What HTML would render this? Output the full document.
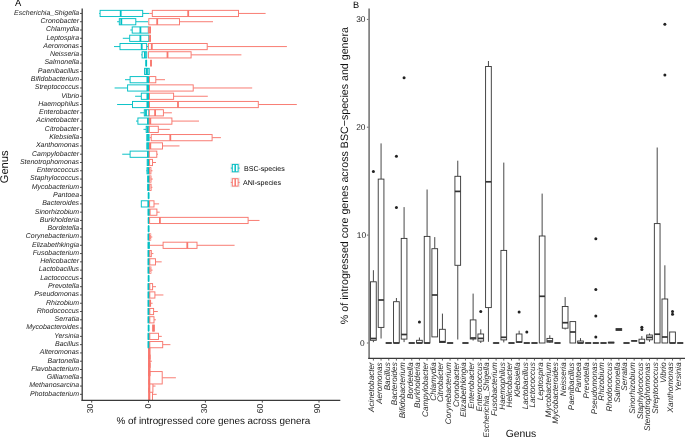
<!DOCTYPE html>
<html><head><meta charset="utf-8"><style>
html,body{margin:0;padding:0;background:#fff;overflow:hidden;width:685px;height:437px;}
svg{display:block;will-change:transform;text-rendering:geometricPrecision;font-family:"Liberation Sans",sans-serif;}
</style></head><body>
<svg width="685" height="437" viewBox="0 0 685 437">
<rect width="685" height="437" fill="#fff"/>
<text x="15.0" y="6.4" font-size="9.4" fill="#000">A</text>
<text x="353.0" y="7.7" font-size="9.2" fill="#000">B</text>
<g fill="none">
<line x1="152.5" y1="394.33" x2="156.7" y2="394.33" stroke="#F8766D" stroke-width="0.95"/>
<rect x="148.7" y="388.13" width="3.80" height="12.40" fill="#fff" stroke="#F8766D" stroke-width="0.95"/>
<line x1="149.4" y1="388.13" x2="149.4" y2="400.53" stroke="#F8766D" stroke-width="1.80"/>
<line x1="152.9" y1="386.05" x2="155.5" y2="386.05" stroke="#F8766D" stroke-width="0.95"/>
<rect x="148.7" y="379.85" width="4.20" height="12.40" fill="#fff" stroke="#F8766D" stroke-width="0.95"/>
<line x1="149.4" y1="379.85" x2="149.4" y2="392.25" stroke="#F8766D" stroke-width="1.80"/>
<line x1="162.2" y1="377.77" x2="175.9" y2="377.77" stroke="#F8766D" stroke-width="0.95"/>
<rect x="148.7" y="371.57" width="13.50" height="12.40" fill="#fff" stroke="#F8766D" stroke-width="0.95"/>
<line x1="149.4" y1="371.57" x2="149.4" y2="383.97" stroke="#F8766D" stroke-width="1.80"/>
<rect x="148.6" y="363.29" width="1.40" height="12.40" fill="#fff" stroke="#F8766D" stroke-width="0.95"/>
<line x1="149.2" y1="363.29" x2="149.2" y2="375.69" stroke="#F8766D" stroke-width="1.80"/>
<line x1="150.0" y1="361.21" x2="151.9" y2="361.21" stroke="#F8766D" stroke-width="0.95"/>
<rect x="148.6" y="355.01" width="1.40" height="12.40" fill="#fff" stroke="#F8766D" stroke-width="0.95"/>
<line x1="149.2" y1="355.01" x2="149.2" y2="367.41" stroke="#F8766D" stroke-width="1.80"/>
<rect x="148.6" y="346.73" width="1.40" height="12.40" fill="#fff" stroke="#F8766D" stroke-width="0.95"/>
<line x1="149.2" y1="346.73" x2="149.2" y2="359.13" stroke="#F8766D" stroke-width="1.80"/>
<rect x="148.1" y="341.55" width="1.20" height="6.20" fill="#fff" stroke="#00BFC4" stroke-width="0.95"/>
<line x1="148.7" y1="341.55" x2="148.7" y2="347.75" stroke="#00BFC4" stroke-width="1.80"/>
<line x1="162.7" y1="344.65" x2="170.4" y2="344.65" stroke="#F8766D" stroke-width="0.95"/>
<rect x="149.8" y="341.55" width="12.90" height="6.20" fill="#fff" stroke="#F8766D" stroke-width="0.95"/>
<rect x="148.1" y="333.27" width="1.20" height="6.20" fill="#fff" stroke="#00BFC4" stroke-width="0.95"/>
<line x1="148.7" y1="333.27" x2="148.7" y2="339.47" stroke="#00BFC4" stroke-width="1.80"/>
<line x1="158.5" y1="336.37" x2="161.8" y2="336.37" stroke="#F8766D" stroke-width="0.95"/>
<rect x="149.8" y="333.27" width="8.70" height="6.20" fill="#fff" stroke="#F8766D" stroke-width="0.95"/>
<rect x="148.6" y="324.99" width="0.01" height="6.20" fill="#fff" stroke="#00BFC4" stroke-width="0.95"/>
<line x1="148.6" y1="324.99" x2="148.6" y2="331.19" stroke="#00BFC4" stroke-width="1.80"/>
<rect x="152.7" y="324.99" width="1.60" height="6.20" fill="#fff" stroke="#F8766D" stroke-width="0.95"/>
<line x1="153.5" y1="324.99" x2="153.5" y2="331.19" stroke="#F8766D" stroke-width="1.80"/>
<rect x="148.1" y="316.71" width="1.20" height="6.20" fill="#fff" stroke="#00BFC4" stroke-width="0.95"/>
<line x1="148.7" y1="316.71" x2="148.7" y2="322.91" stroke="#00BFC4" stroke-width="1.80"/>
<line x1="154.0" y1="319.81" x2="155.9" y2="319.81" stroke="#F8766D" stroke-width="0.95"/>
<rect x="149.8" y="316.71" width="4.20" height="6.20" fill="#fff" stroke="#F8766D" stroke-width="0.95"/>
<rect x="148.1" y="308.43" width="1.20" height="6.20" fill="#fff" stroke="#00BFC4" stroke-width="0.95"/>
<line x1="148.7" y1="308.43" x2="148.7" y2="314.63" stroke="#00BFC4" stroke-width="1.80"/>
<line x1="153.6" y1="311.53" x2="157.8" y2="311.53" stroke="#F8766D" stroke-width="0.95"/>
<rect x="149.8" y="308.43" width="3.80" height="6.20" fill="#fff" stroke="#F8766D" stroke-width="0.95"/>
<rect x="148.1" y="300.15" width="1.20" height="6.20" fill="#fff" stroke="#00BFC4" stroke-width="0.95"/>
<line x1="148.7" y1="300.15" x2="148.7" y2="306.35" stroke="#00BFC4" stroke-width="1.80"/>
<line x1="150.6" y1="303.25" x2="152.6" y2="303.25" stroke="#F8766D" stroke-width="0.95"/>
<rect x="149.8" y="300.15" width="0.80" height="6.20" fill="#fff" stroke="#F8766D" stroke-width="0.95"/>
<rect x="148.1" y="291.87" width="1.20" height="6.20" fill="#fff" stroke="#00BFC4" stroke-width="0.95"/>
<line x1="148.7" y1="291.87" x2="148.7" y2="298.07" stroke="#00BFC4" stroke-width="1.80"/>
<line x1="154.9" y1="294.97" x2="163.4" y2="294.97" stroke="#F8766D" stroke-width="0.95"/>
<rect x="149.8" y="291.87" width="5.10" height="6.20" fill="#fff" stroke="#F8766D" stroke-width="0.95"/>
<rect x="148.1" y="283.59" width="1.20" height="6.20" fill="#fff" stroke="#00BFC4" stroke-width="0.95"/>
<line x1="148.7" y1="283.59" x2="148.7" y2="289.79" stroke="#00BFC4" stroke-width="1.80"/>
<line x1="152.6" y1="286.69" x2="156.0" y2="286.69" stroke="#F8766D" stroke-width="0.95"/>
<rect x="149.8" y="283.59" width="2.80" height="6.20" fill="#fff" stroke="#F8766D" stroke-width="0.95"/>
<rect x="148.6" y="275.31" width="0.01" height="6.20" fill="#fff" stroke="#00BFC4" stroke-width="0.95"/>
<line x1="148.6" y1="275.31" x2="148.6" y2="281.51" stroke="#00BFC4" stroke-width="1.80"/>
<rect x="148.1" y="267.03" width="1.20" height="6.20" fill="#fff" stroke="#00BFC4" stroke-width="0.95"/>
<line x1="148.7" y1="267.03" x2="148.7" y2="273.23" stroke="#00BFC4" stroke-width="1.80"/>
<line x1="150.9" y1="270.13" x2="152.6" y2="270.13" stroke="#F8766D" stroke-width="0.95"/>
<rect x="149.8" y="267.03" width="1.10" height="6.20" fill="#fff" stroke="#F8766D" stroke-width="0.95"/>
<rect x="148.1" y="258.75" width="1.20" height="6.20" fill="#fff" stroke="#00BFC4" stroke-width="0.95"/>
<line x1="148.7" y1="258.75" x2="148.7" y2="264.95" stroke="#00BFC4" stroke-width="1.80"/>
<line x1="155.5" y1="261.85" x2="161.7" y2="261.85" stroke="#F8766D" stroke-width="0.95"/>
<rect x="149.8" y="258.75" width="5.70" height="6.20" fill="#fff" stroke="#F8766D" stroke-width="0.95"/>
<rect x="148.1" y="250.47" width="1.20" height="6.20" fill="#fff" stroke="#00BFC4" stroke-width="0.95"/>
<line x1="148.7" y1="250.47" x2="148.7" y2="256.67" stroke="#00BFC4" stroke-width="1.80"/>
<line x1="151.3" y1="253.57" x2="153.4" y2="253.57" stroke="#F8766D" stroke-width="0.95"/>
<rect x="149.8" y="250.47" width="1.50" height="6.20" fill="#fff" stroke="#F8766D" stroke-width="0.95"/>
<rect x="148.1" y="242.19" width="1.20" height="6.20" fill="#fff" stroke="#00BFC4" stroke-width="0.95"/>
<line x1="148.7" y1="242.19" x2="148.7" y2="248.39" stroke="#00BFC4" stroke-width="1.80"/>
<line x1="149.6" y1="245.29" x2="163.1" y2="245.29" stroke="#F8766D" stroke-width="0.95"/>
<line x1="197.0" y1="245.29" x2="234.6" y2="245.29" stroke="#F8766D" stroke-width="0.95"/>
<rect x="163.1" y="242.19" width="33.90" height="6.20" fill="#fff" stroke="#F8766D" stroke-width="0.95"/>
<line x1="187.3" y1="242.19" x2="187.3" y2="248.39" stroke="#F8766D" stroke-width="1.80"/>
<rect x="148.1" y="233.91" width="1.20" height="6.20" fill="#fff" stroke="#00BFC4" stroke-width="0.95"/>
<line x1="148.7" y1="233.91" x2="148.7" y2="240.11" stroke="#00BFC4" stroke-width="1.80"/>
<line x1="150.7" y1="237.01" x2="152.3" y2="237.01" stroke="#F8766D" stroke-width="0.95"/>
<rect x="149.6" y="233.91" width="1.10" height="6.20" fill="#fff" stroke="#F8766D" stroke-width="0.95"/>
<rect x="148.6" y="225.63" width="0.01" height="6.20" fill="#fff" stroke="#00BFC4" stroke-width="0.95"/>
<line x1="148.6" y1="225.63" x2="148.6" y2="231.83" stroke="#00BFC4" stroke-width="1.80"/>
<rect x="148.6" y="217.35" width="0.01" height="6.20" fill="#fff" stroke="#00BFC4" stroke-width="0.95"/>
<line x1="148.6" y1="217.35" x2="148.6" y2="223.55" stroke="#00BFC4" stroke-width="1.80"/>
<line x1="248.1" y1="220.45" x2="259.5" y2="220.45" stroke="#F8766D" stroke-width="0.95"/>
<rect x="149.6" y="217.35" width="98.50" height="6.20" fill="#fff" stroke="#F8766D" stroke-width="0.95"/>
<line x1="159.9" y1="217.35" x2="159.9" y2="223.55" stroke="#F8766D" stroke-width="1.80"/>
<rect x="148.1" y="209.07" width="1.20" height="6.20" fill="#fff" stroke="#00BFC4" stroke-width="0.95"/>
<line x1="148.7" y1="209.07" x2="148.7" y2="215.27" stroke="#00BFC4" stroke-width="1.80"/>
<line x1="149.6" y1="212.17" x2="150.1" y2="212.17" stroke="#F8766D" stroke-width="0.95"/>
<line x1="156.9" y1="212.17" x2="159.7" y2="212.17" stroke="#F8766D" stroke-width="0.95"/>
<rect x="150.1" y="209.07" width="6.80" height="6.20" fill="#fff" stroke="#F8766D" stroke-width="0.95"/>
<rect x="141.3" y="200.79" width="7.80" height="6.20" fill="#fff" stroke="#00BFC4" stroke-width="0.95"/>
<line x1="148.3" y1="200.79" x2="148.3" y2="206.99" stroke="#00BFC4" stroke-width="1.80"/>
<line x1="154.0" y1="203.89" x2="159.1" y2="203.89" stroke="#F8766D" stroke-width="0.95"/>
<rect x="149.6" y="200.79" width="4.40" height="6.20" fill="#fff" stroke="#F8766D" stroke-width="0.95"/>
<rect x="148.6" y="192.51" width="0.01" height="6.20" fill="#fff" stroke="#00BFC4" stroke-width="0.95"/>
<line x1="148.6" y1="192.51" x2="148.6" y2="198.71" stroke="#00BFC4" stroke-width="1.80"/>
<rect x="147.7" y="184.23" width="1.60" height="6.20" fill="#fff" stroke="#00BFC4" stroke-width="0.95"/>
<line x1="148.5" y1="184.23" x2="148.5" y2="190.43" stroke="#00BFC4" stroke-width="1.80"/>
<line x1="151.1" y1="187.33" x2="152.4" y2="187.33" stroke="#F8766D" stroke-width="0.95"/>
<rect x="149.8" y="184.23" width="1.30" height="6.20" fill="#fff" stroke="#F8766D" stroke-width="0.95"/>
<rect x="147.7" y="175.95" width="1.60" height="6.20" fill="#fff" stroke="#00BFC4" stroke-width="0.95"/>
<line x1="148.5" y1="175.95" x2="148.5" y2="182.15" stroke="#00BFC4" stroke-width="1.80"/>
<line x1="151.0" y1="179.05" x2="152.8" y2="179.05" stroke="#F8766D" stroke-width="0.95"/>
<rect x="149.8" y="175.95" width="1.20" height="6.20" fill="#fff" stroke="#F8766D" stroke-width="0.95"/>
<line x1="146.4" y1="170.77" x2="147.0" y2="170.77" stroke="#00BFC4" stroke-width="0.95"/>
<rect x="147.0" y="167.67" width="2.10" height="6.20" fill="#fff" stroke="#00BFC4" stroke-width="0.95"/>
<line x1="148.2" y1="167.67" x2="148.2" y2="173.87" stroke="#00BFC4" stroke-width="1.80"/>
<line x1="150.9" y1="170.77" x2="152.5" y2="170.77" stroke="#F8766D" stroke-width="0.95"/>
<rect x="149.6" y="167.67" width="1.30" height="6.20" fill="#fff" stroke="#F8766D" stroke-width="0.95"/>
<rect x="147.2" y="159.39" width="1.90" height="6.20" fill="#fff" stroke="#00BFC4" stroke-width="0.95"/>
<line x1="148.2" y1="159.39" x2="148.2" y2="165.59" stroke="#00BFC4" stroke-width="1.80"/>
<line x1="152.5" y1="162.49" x2="156.0" y2="162.49" stroke="#F8766D" stroke-width="0.95"/>
<rect x="149.6" y="159.39" width="2.90" height="6.20" fill="#fff" stroke="#F8766D" stroke-width="0.95"/>
<line x1="122.2" y1="154.21" x2="130.1" y2="154.21" stroke="#00BFC4" stroke-width="0.95"/>
<rect x="130.1" y="151.11" width="18.70" height="6.20" fill="#fff" stroke="#00BFC4" stroke-width="0.95"/>
<line x1="147.9" y1="151.11" x2="147.9" y2="157.31" stroke="#00BFC4" stroke-width="1.80"/>
<line x1="156.8" y1="154.21" x2="158.0" y2="154.21" stroke="#F8766D" stroke-width="0.95"/>
<rect x="149.3" y="151.11" width="7.50" height="6.20" fill="#fff" stroke="#F8766D" stroke-width="0.95"/>
<rect x="146.8" y="142.83" width="2.30" height="6.20" fill="#fff" stroke="#00BFC4" stroke-width="0.95"/>
<line x1="148.0" y1="142.83" x2="148.0" y2="149.03" stroke="#00BFC4" stroke-width="1.80"/>
<line x1="162.5" y1="145.93" x2="179.5" y2="145.93" stroke="#F8766D" stroke-width="0.95"/>
<rect x="149.6" y="142.83" width="12.90" height="6.20" fill="#fff" stroke="#F8766D" stroke-width="0.95"/>
<line x1="150.3" y1="142.83" x2="150.3" y2="149.03" stroke="#F8766D" stroke-width="1.80"/>
<rect x="146.8" y="134.55" width="2.30" height="6.20" fill="#fff" stroke="#00BFC4" stroke-width="0.95"/>
<line x1="148.0" y1="134.55" x2="148.0" y2="140.75" stroke="#00BFC4" stroke-width="1.80"/>
<line x1="149.4" y1="137.65" x2="151.2" y2="137.65" stroke="#F8766D" stroke-width="0.95"/>
<line x1="212.1" y1="137.65" x2="220.9" y2="137.65" stroke="#F8766D" stroke-width="0.95"/>
<rect x="151.2" y="134.55" width="60.90" height="6.20" fill="#fff" stroke="#F8766D" stroke-width="0.95"/>
<line x1="170.3" y1="134.55" x2="170.3" y2="140.75" stroke="#F8766D" stroke-width="1.80"/>
<line x1="143.5" y1="129.37" x2="146.2" y2="129.37" stroke="#00BFC4" stroke-width="0.95"/>
<rect x="146.2" y="126.27" width="2.60" height="6.20" fill="#fff" stroke="#00BFC4" stroke-width="0.95"/>
<line x1="147.6" y1="126.27" x2="147.6" y2="132.47" stroke="#00BFC4" stroke-width="1.80"/>
<line x1="158.3" y1="129.37" x2="169.8" y2="129.37" stroke="#F8766D" stroke-width="0.95"/>
<rect x="149.3" y="126.27" width="9.00" height="6.20" fill="#fff" stroke="#F8766D" stroke-width="0.95"/>
<line x1="136.0" y1="121.09" x2="137.9" y2="121.09" stroke="#00BFC4" stroke-width="0.95"/>
<rect x="137.9" y="117.99" width="10.90" height="6.20" fill="#fff" stroke="#00BFC4" stroke-width="0.95"/>
<line x1="147.9" y1="117.99" x2="147.9" y2="124.19" stroke="#00BFC4" stroke-width="1.80"/>
<line x1="171.9" y1="121.09" x2="199.0" y2="121.09" stroke="#F8766D" stroke-width="0.95"/>
<rect x="149.3" y="117.99" width="22.60" height="6.20" fill="#fff" stroke="#F8766D" stroke-width="0.95"/>
<line x1="150.3" y1="117.99" x2="150.3" y2="124.19" stroke="#F8766D" stroke-width="1.80"/>
<line x1="140.3" y1="112.81" x2="144.3" y2="112.81" stroke="#00BFC4" stroke-width="0.95"/>
<rect x="144.3" y="109.71" width="4.50" height="6.20" fill="#fff" stroke="#00BFC4" stroke-width="0.95"/>
<line x1="146.0" y1="109.71" x2="146.0" y2="115.91" stroke="#00BFC4" stroke-width="1.80"/>
<line x1="163.4" y1="112.81" x2="171.9" y2="112.81" stroke="#F8766D" stroke-width="0.95"/>
<rect x="149.3" y="109.71" width="14.10" height="6.20" fill="#fff" stroke="#F8766D" stroke-width="0.95"/>
<line x1="155.1" y1="109.71" x2="155.1" y2="115.91" stroke="#F8766D" stroke-width="1.80"/>
<line x1="117.1" y1="104.53" x2="132.5" y2="104.53" stroke="#00BFC4" stroke-width="0.95"/>
<rect x="132.5" y="101.43" width="16.00" height="6.20" fill="#fff" stroke="#00BFC4" stroke-width="0.95"/>
<line x1="147.4" y1="101.43" x2="147.4" y2="107.63" stroke="#00BFC4" stroke-width="1.80"/>
<line x1="258.3" y1="104.53" x2="296.8" y2="104.53" stroke="#F8766D" stroke-width="0.95"/>
<rect x="149.5" y="101.43" width="108.80" height="6.20" fill="#fff" stroke="#F8766D" stroke-width="0.95"/>
<line x1="178.0" y1="101.43" x2="178.0" y2="107.63" stroke="#F8766D" stroke-width="1.80"/>
<line x1="135.1" y1="96.25" x2="141.3" y2="96.25" stroke="#00BFC4" stroke-width="0.95"/>
<rect x="141.3" y="93.15" width="7.20" height="6.20" fill="#fff" stroke="#00BFC4" stroke-width="0.95"/>
<line x1="147.4" y1="93.15" x2="147.4" y2="99.35" stroke="#00BFC4" stroke-width="1.80"/>
<line x1="173.6" y1="96.25" x2="207.8" y2="96.25" stroke="#F8766D" stroke-width="0.95"/>
<rect x="149.5" y="93.15" width="24.10" height="6.20" fill="#fff" stroke="#F8766D" stroke-width="0.95"/>
<line x1="114.6" y1="87.97" x2="127.6" y2="87.97" stroke="#00BFC4" stroke-width="0.95"/>
<rect x="127.6" y="84.87" width="20.90" height="6.20" fill="#fff" stroke="#00BFC4" stroke-width="0.95"/>
<line x1="147.4" y1="84.87" x2="147.4" y2="91.07" stroke="#00BFC4" stroke-width="1.80"/>
<line x1="193.2" y1="87.97" x2="252.2" y2="87.97" stroke="#F8766D" stroke-width="0.95"/>
<rect x="149.5" y="84.87" width="43.70" height="6.20" fill="#fff" stroke="#F8766D" stroke-width="0.95"/>
<line x1="125.0" y1="79.69" x2="130.1" y2="79.69" stroke="#00BFC4" stroke-width="0.95"/>
<rect x="130.1" y="76.59" width="18.40" height="6.20" fill="#fff" stroke="#00BFC4" stroke-width="0.95"/>
<line x1="147.4" y1="76.59" x2="147.4" y2="82.79" stroke="#00BFC4" stroke-width="1.80"/>
<line x1="155.8" y1="79.69" x2="165.0" y2="79.69" stroke="#F8766D" stroke-width="0.95"/>
<rect x="149.5" y="76.59" width="6.30" height="6.20" fill="#fff" stroke="#F8766D" stroke-width="0.95"/>
<rect x="144.6" y="68.31" width="4.60" height="6.20" fill="#a6e6e8" stroke="#00BFC4" stroke-width="0.95"/>
<line x1="146.9" y1="68.31" x2="146.9" y2="74.51" stroke="#00BFC4" stroke-width="1.80"/>
<rect x="146.2" y="60.03" width="0.01" height="6.20" fill="#fff" stroke="#00BFC4" stroke-width="0.95"/>
<line x1="146.2" y1="60.03" x2="146.2" y2="66.23" stroke="#00BFC4" stroke-width="1.80"/>
<rect x="151.0" y="60.03" width="0.01" height="6.20" fill="#fff" stroke="#F8766D" stroke-width="0.95"/>
<line x1="151.0" y1="60.03" x2="151.0" y2="66.23" stroke="#F8766D" stroke-width="1.80"/>
<line x1="141.2" y1="54.85" x2="142.1" y2="54.85" stroke="#00BFC4" stroke-width="0.95"/>
<rect x="142.1" y="51.75" width="4.60" height="6.20" fill="#fff" stroke="#00BFC4" stroke-width="0.95"/>
<line x1="144.9" y1="51.75" x2="144.9" y2="57.95" stroke="#00BFC4" stroke-width="1.80"/>
<line x1="191.1" y1="54.85" x2="241.4" y2="54.85" stroke="#F8766D" stroke-width="0.95"/>
<rect x="148.4" y="51.75" width="42.70" height="6.20" fill="#fff" stroke="#F8766D" stroke-width="0.95"/>
<line x1="167.5" y1="51.75" x2="167.5" y2="57.95" stroke="#F8766D" stroke-width="1.80"/>
<line x1="114.0" y1="46.57" x2="120.0" y2="46.57" stroke="#00BFC4" stroke-width="0.95"/>
<line x1="146.7" y1="46.57" x2="148.1" y2="46.57" stroke="#00BFC4" stroke-width="0.95"/>
<rect x="120.0" y="43.47" width="26.70" height="6.20" fill="#fff" stroke="#00BFC4" stroke-width="0.95"/>
<line x1="141.7" y1="43.47" x2="141.7" y2="49.67" stroke="#00BFC4" stroke-width="1.80"/>
<line x1="207.2" y1="46.57" x2="286.9" y2="46.57" stroke="#F8766D" stroke-width="0.95"/>
<rect x="148.4" y="43.47" width="58.80" height="6.20" fill="#fff" stroke="#F8766D" stroke-width="0.95"/>
<line x1="151.8" y1="43.47" x2="151.8" y2="49.67" stroke="#F8766D" stroke-width="1.80"/>
<line x1="122.8" y1="38.29" x2="129.7" y2="38.29" stroke="#00BFC4" stroke-width="0.95"/>
<rect x="129.7" y="35.19" width="19.10" height="6.20" fill="#fff" stroke="#00BFC4" stroke-width="0.95"/>
<line x1="140.4" y1="35.19" x2="140.4" y2="41.39" stroke="#00BFC4" stroke-width="1.80"/>
<rect x="149.2" y="35.19" width="1.30" height="6.20" fill="#fff" stroke="#F8766D" stroke-width="0.95"/>
<line x1="150.0" y1="35.19" x2="150.0" y2="41.39" stroke="#F8766D" stroke-width="1.80"/>
<line x1="130.3" y1="30.01" x2="132.2" y2="30.01" stroke="#00BFC4" stroke-width="0.95"/>
<rect x="132.2" y="26.91" width="16.10" height="6.20" fill="#fff" stroke="#00BFC4" stroke-width="0.95"/>
<line x1="140.4" y1="26.91" x2="140.4" y2="33.11" stroke="#00BFC4" stroke-width="1.80"/>
<rect x="148.6" y="26.91" width="1.90" height="6.20" fill="#fff" stroke="#F8766D" stroke-width="0.95"/>
<line x1="150.0" y1="26.91" x2="150.0" y2="33.11" stroke="#F8766D" stroke-width="1.80"/>
<line x1="117.1" y1="21.73" x2="119.3" y2="21.73" stroke="#00BFC4" stroke-width="0.95"/>
<line x1="135.8" y1="21.73" x2="148.0" y2="21.73" stroke="#00BFC4" stroke-width="0.95"/>
<rect x="119.3" y="18.63" width="16.50" height="6.20" fill="#fff" stroke="#00BFC4" stroke-width="0.95"/>
<line x1="121.3" y1="18.63" x2="121.3" y2="24.83" stroke="#00BFC4" stroke-width="1.80"/>
<line x1="179.5" y1="21.73" x2="213.0" y2="21.73" stroke="#F8766D" stroke-width="0.95"/>
<rect x="148.8" y="18.63" width="30.70" height="6.20" fill="#fff" stroke="#F8766D" stroke-width="0.95"/>
<line x1="157.2" y1="18.63" x2="157.2" y2="24.83" stroke="#F8766D" stroke-width="1.80"/>
<line x1="99.2" y1="13.45" x2="100.1" y2="13.45" stroke="#00BFC4" stroke-width="0.95"/>
<line x1="142.7" y1="13.45" x2="149.2" y2="13.45" stroke="#00BFC4" stroke-width="0.95"/>
<rect x="100.1" y="10.35" width="42.60" height="6.20" fill="#fff" stroke="#00BFC4" stroke-width="0.95"/>
<line x1="120.7" y1="10.35" x2="120.7" y2="16.55" stroke="#00BFC4" stroke-width="1.80"/>
<line x1="149.2" y1="13.45" x2="152.3" y2="13.45" stroke="#F8766D" stroke-width="0.95"/>
<line x1="238.5" y1="13.45" x2="265.6" y2="13.45" stroke="#F8766D" stroke-width="0.95"/>
<rect x="152.3" y="10.35" width="86.20" height="6.20" fill="#fff" stroke="#F8766D" stroke-width="0.95"/>
<line x1="188.2" y1="10.35" x2="188.2" y2="16.55" stroke="#F8766D" stroke-width="1.80"/>
</g>
<line x1="82.2" y1="8.6" x2="82.2" y2="400.9" stroke="#3a3a3a" stroke-width="1.3"/>
<line x1="81.6" y1="400.3" x2="340.3" y2="400.3" stroke="#3a3a3a" stroke-width="1.3"/>
<line x1="80.0" y1="13.45" x2="82" y2="13.45" stroke="#3a3a3a" stroke-width="0.9"/>
<line x1="80.0" y1="21.73" x2="82" y2="21.73" stroke="#3a3a3a" stroke-width="0.9"/>
<line x1="80.0" y1="30.01" x2="82" y2="30.01" stroke="#3a3a3a" stroke-width="0.9"/>
<line x1="80.0" y1="38.29" x2="82" y2="38.29" stroke="#3a3a3a" stroke-width="0.9"/>
<line x1="80.0" y1="46.57" x2="82" y2="46.57" stroke="#3a3a3a" stroke-width="0.9"/>
<line x1="80.0" y1="54.85" x2="82" y2="54.85" stroke="#3a3a3a" stroke-width="0.9"/>
<line x1="80.0" y1="63.13" x2="82" y2="63.13" stroke="#3a3a3a" stroke-width="0.9"/>
<line x1="80.0" y1="71.41" x2="82" y2="71.41" stroke="#3a3a3a" stroke-width="0.9"/>
<line x1="80.0" y1="79.69" x2="82" y2="79.69" stroke="#3a3a3a" stroke-width="0.9"/>
<line x1="80.0" y1="87.97" x2="82" y2="87.97" stroke="#3a3a3a" stroke-width="0.9"/>
<line x1="80.0" y1="96.25" x2="82" y2="96.25" stroke="#3a3a3a" stroke-width="0.9"/>
<line x1="80.0" y1="104.53" x2="82" y2="104.53" stroke="#3a3a3a" stroke-width="0.9"/>
<line x1="80.0" y1="112.81" x2="82" y2="112.81" stroke="#3a3a3a" stroke-width="0.9"/>
<line x1="80.0" y1="121.09" x2="82" y2="121.09" stroke="#3a3a3a" stroke-width="0.9"/>
<line x1="80.0" y1="129.37" x2="82" y2="129.37" stroke="#3a3a3a" stroke-width="0.9"/>
<line x1="80.0" y1="137.65" x2="82" y2="137.65" stroke="#3a3a3a" stroke-width="0.9"/>
<line x1="80.0" y1="145.93" x2="82" y2="145.93" stroke="#3a3a3a" stroke-width="0.9"/>
<line x1="80.0" y1="154.21" x2="82" y2="154.21" stroke="#3a3a3a" stroke-width="0.9"/>
<line x1="80.0" y1="162.49" x2="82" y2="162.49" stroke="#3a3a3a" stroke-width="0.9"/>
<line x1="80.0" y1="170.77" x2="82" y2="170.77" stroke="#3a3a3a" stroke-width="0.9"/>
<line x1="80.0" y1="179.05" x2="82" y2="179.05" stroke="#3a3a3a" stroke-width="0.9"/>
<line x1="80.0" y1="187.33" x2="82" y2="187.33" stroke="#3a3a3a" stroke-width="0.9"/>
<line x1="80.0" y1="195.61" x2="82" y2="195.61" stroke="#3a3a3a" stroke-width="0.9"/>
<line x1="80.0" y1="203.89" x2="82" y2="203.89" stroke="#3a3a3a" stroke-width="0.9"/>
<line x1="80.0" y1="212.17" x2="82" y2="212.17" stroke="#3a3a3a" stroke-width="0.9"/>
<line x1="80.0" y1="220.45" x2="82" y2="220.45" stroke="#3a3a3a" stroke-width="0.9"/>
<line x1="80.0" y1="228.73" x2="82" y2="228.73" stroke="#3a3a3a" stroke-width="0.9"/>
<line x1="80.0" y1="237.01" x2="82" y2="237.01" stroke="#3a3a3a" stroke-width="0.9"/>
<line x1="80.0" y1="245.29" x2="82" y2="245.29" stroke="#3a3a3a" stroke-width="0.9"/>
<line x1="80.0" y1="253.57" x2="82" y2="253.57" stroke="#3a3a3a" stroke-width="0.9"/>
<line x1="80.0" y1="261.85" x2="82" y2="261.85" stroke="#3a3a3a" stroke-width="0.9"/>
<line x1="80.0" y1="270.13" x2="82" y2="270.13" stroke="#3a3a3a" stroke-width="0.9"/>
<line x1="80.0" y1="278.41" x2="82" y2="278.41" stroke="#3a3a3a" stroke-width="0.9"/>
<line x1="80.0" y1="286.69" x2="82" y2="286.69" stroke="#3a3a3a" stroke-width="0.9"/>
<line x1="80.0" y1="294.97" x2="82" y2="294.97" stroke="#3a3a3a" stroke-width="0.9"/>
<line x1="80.0" y1="303.25" x2="82" y2="303.25" stroke="#3a3a3a" stroke-width="0.9"/>
<line x1="80.0" y1="311.53" x2="82" y2="311.53" stroke="#3a3a3a" stroke-width="0.9"/>
<line x1="80.0" y1="319.81" x2="82" y2="319.81" stroke="#3a3a3a" stroke-width="0.9"/>
<line x1="80.0" y1="328.09" x2="82" y2="328.09" stroke="#3a3a3a" stroke-width="0.9"/>
<line x1="80.0" y1="336.37" x2="82" y2="336.37" stroke="#3a3a3a" stroke-width="0.9"/>
<line x1="80.0" y1="344.65" x2="82" y2="344.65" stroke="#3a3a3a" stroke-width="0.9"/>
<line x1="80.0" y1="352.93" x2="82" y2="352.93" stroke="#3a3a3a" stroke-width="0.9"/>
<line x1="80.0" y1="361.21" x2="82" y2="361.21" stroke="#3a3a3a" stroke-width="0.9"/>
<line x1="80.0" y1="369.49" x2="82" y2="369.49" stroke="#3a3a3a" stroke-width="0.9"/>
<line x1="80.0" y1="377.77" x2="82" y2="377.77" stroke="#3a3a3a" stroke-width="0.9"/>
<line x1="80.0" y1="386.05" x2="82" y2="386.05" stroke="#3a3a3a" stroke-width="0.9"/>
<line x1="80.0" y1="394.33" x2="82" y2="394.33" stroke="#3a3a3a" stroke-width="0.9"/>
<line x1="91.7" y1="400.8" x2="91.7" y2="402.6" stroke="#3a3a3a" stroke-width="0.9"/>
<line x1="148.5" y1="400.8" x2="148.5" y2="402.6" stroke="#3a3a3a" stroke-width="0.9"/>
<line x1="205.4" y1="400.8" x2="205.4" y2="402.6" stroke="#3a3a3a" stroke-width="0.9"/>
<line x1="262.3" y1="400.8" x2="262.3" y2="402.6" stroke="#3a3a3a" stroke-width="0.9"/>
<line x1="319.0" y1="400.8" x2="319.0" y2="402.6" stroke="#3a3a3a" stroke-width="0.9"/>
<g font-size="7.0" font-style="italic" fill="#1e1e1e">
<text x="79.1" y="14.80" text-anchor="end">Escherichia_Shigella</text>
<text x="79.1" y="23.08" text-anchor="end">Cronobacter</text>
<text x="79.1" y="31.36" text-anchor="end">Chlamydia</text>
<text x="79.1" y="39.64" text-anchor="end">Leptospira</text>
<text x="79.1" y="47.92" text-anchor="end">Aeromonas</text>
<text x="79.1" y="56.20" text-anchor="end">Neisseria</text>
<text x="79.1" y="64.48" text-anchor="end">Salmonella</text>
<text x="79.1" y="72.76" text-anchor="end">Paenibacillus</text>
<text x="79.1" y="81.04" text-anchor="end">Bifidobacterium</text>
<text x="79.1" y="89.32" text-anchor="end">Streptococcus</text>
<text x="79.1" y="97.60" text-anchor="end">Vibrio</text>
<text x="79.1" y="105.88" text-anchor="end">Haemophilus</text>
<text x="79.1" y="114.16" text-anchor="end">Enterobacter</text>
<text x="79.1" y="122.44" text-anchor="end">Acinetobacter</text>
<text x="79.1" y="130.72" text-anchor="end">Citrobacter</text>
<text x="79.1" y="139.00" text-anchor="end">Klebsiella</text>
<text x="79.1" y="147.28" text-anchor="end">Xanthomonas</text>
<text x="79.1" y="155.56" text-anchor="end">Campylobacter</text>
<text x="79.1" y="163.84" text-anchor="end">Stenotrophomonas</text>
<text x="79.1" y="172.12" text-anchor="end">Enterococcus</text>
<text x="79.1" y="180.40" text-anchor="end">Staphylococcus</text>
<text x="79.1" y="188.68" text-anchor="end">Mycobacterium</text>
<text x="79.1" y="196.96" text-anchor="end">Pantoea</text>
<text x="79.1" y="205.24" text-anchor="end">Bacteroides</text>
<text x="79.1" y="213.52" text-anchor="end">Sinorhizobium</text>
<text x="79.1" y="221.80" text-anchor="end">Burkholderia</text>
<text x="79.1" y="230.08" text-anchor="end">Bordetella</text>
<text x="79.1" y="238.36" text-anchor="end">Corynebacterium</text>
<text x="79.1" y="246.64" text-anchor="end">Elizabethkingia</text>
<text x="79.1" y="254.92" text-anchor="end">Fusobacterium</text>
<text x="79.1" y="263.20" text-anchor="end">Helicobacter</text>
<text x="79.1" y="271.48" text-anchor="end">Lactobacillus</text>
<text x="79.1" y="279.76" text-anchor="end">Lactococcus</text>
<text x="79.1" y="288.04" text-anchor="end">Prevotella</text>
<text x="79.1" y="296.32" text-anchor="end">Pseudomonas</text>
<text x="79.1" y="304.60" text-anchor="end">Rhizobium</text>
<text x="79.1" y="312.88" text-anchor="end">Rhodococcus</text>
<text x="79.1" y="321.16" text-anchor="end">Serratia</text>
<text x="79.1" y="329.44" text-anchor="end">Mycobacteroides</text>
<text x="79.1" y="337.72" text-anchor="end">Yersinia</text>
<text x="79.1" y="346.00" text-anchor="end">Bacillus</text>
<text x="79.1" y="354.28" text-anchor="end">Alteromonas</text>
<text x="79.1" y="362.56" text-anchor="end">Bartonella</text>
<text x="79.1" y="370.84" text-anchor="end">Flavobacterium</text>
<text x="79.1" y="379.12" text-anchor="end">Gilliamella</text>
<text x="79.1" y="387.40" text-anchor="end">Methanosarcina</text>
<text x="79.1" y="395.68" text-anchor="end">Photobacterium</text>
</g>
<g font-size="8.5" fill="#222">
<text transform="translate(93.00,403.8) rotate(-90)" text-anchor="end">30</text>
<text transform="translate(150.90,403.8) rotate(-90)" text-anchor="end">0</text>
<text transform="translate(207.00,403.8) rotate(-90)" text-anchor="end">30</text>
<text transform="translate(263.40,403.8) rotate(-90)" text-anchor="end">60</text>
<text transform="translate(320.00,403.8) rotate(-90)" text-anchor="end">90</text>
</g>
<text x="213.3" y="424.4" font-size="9.9" text-anchor="middle" fill="#111">% of introgressed core genes across genera</text>
<text transform="translate(7.9,166.9) rotate(-90)" font-size="11.1" text-anchor="middle" fill="#111">Genus</text>
<!-- legend -->
<rect x="230.5" y="163.3" width="9.6" height="9.6" fill="#ececec"/>
<rect x="232.3" y="164.4" width="5.8" height="7.4" fill="#fff" stroke="#00BFC4" stroke-width="0.95"/>
<line x1="235.2" y1="164.4" x2="235.2" y2="171.8" stroke="#00BFC4" stroke-width="1.5"/>
<line x1="230.8" y1="168.1" x2="232.3" y2="168.1" stroke="#00BFC4" stroke-width="0.95"/>
<line x1="238.1" y1="168.1" x2="239.7" y2="168.1" stroke="#00BFC4" stroke-width="0.95"/>
<rect x="230.5" y="177.6" width="9.6" height="9.6" fill="#ececec"/>
<rect x="232.3" y="178.7" width="5.8" height="7.4" fill="#fff" stroke="#F8766D" stroke-width="0.95"/>
<line x1="235.2" y1="178.7" x2="235.2" y2="186.1" stroke="#F8766D" stroke-width="1.5"/>
<line x1="230.8" y1="182.4" x2="232.3" y2="182.4" stroke="#F8766D" stroke-width="0.95"/>
<line x1="238.1" y1="182.4" x2="239.7" y2="182.4" stroke="#F8766D" stroke-width="0.95"/>
<text x="244" y="170.8" font-size="7.05" fill="#000">BSC-species</text>
<text x="243" y="184.5" font-size="7.05" fill="#000">ANI-species</text>
<!-- right panel -->
<line x1="373.40" y1="270.2" x2="373.40" y2="281.8" stroke="#333" stroke-width="0.9"/>
<line x1="373.40" y1="340.3" x2="373.40" y2="342.2" stroke="#333" stroke-width="0.9"/>
<rect x="370.55" y="281.8" width="5.70" height="58.50" fill="#fff" stroke="#333" stroke-width="0.9"/>
<line x1="370.55" y1="338.5" x2="376.25" y2="338.5" stroke="#333" stroke-width="1.7"/>
<circle cx="373.40" cy="171.6" r="1.5" fill="#222"/>
<line x1="381.07" y1="143.4" x2="381.07" y2="179.1" stroke="#333" stroke-width="0.9"/>
<line x1="381.07" y1="327.4" x2="381.07" y2="338.5" stroke="#333" stroke-width="0.9"/>
<rect x="378.22" y="179.1" width="5.70" height="148.30" fill="#fff" stroke="#333" stroke-width="0.9"/>
<line x1="378.22" y1="300.0" x2="383.92" y2="300.0" stroke="#333" stroke-width="1.7"/>
<rect x="385.89" y="343" width="5.70" height="0.01" fill="#fff" stroke="#333" stroke-width="0.9"/>
<line x1="385.89" y1="343" x2="391.59" y2="343" stroke="#333" stroke-width="1.7"/>
<line x1="396.41" y1="298.0" x2="396.41" y2="301.7" stroke="#333" stroke-width="0.9"/>
<rect x="393.56" y="301.7" width="5.70" height="41.30" fill="#fff" stroke="#333" stroke-width="0.9"/>
<line x1="393.56" y1="343" x2="399.26" y2="343" stroke="#333" stroke-width="1.7"/>
<circle cx="396.41" cy="156.3" r="1.5" fill="#222"/>
<circle cx="396.41" cy="207.4" r="1.5" fill="#222"/>
<line x1="404.08" y1="207.1" x2="404.08" y2="238.4" stroke="#333" stroke-width="0.9"/>
<line x1="404.08" y1="339.1" x2="404.08" y2="342.1" stroke="#333" stroke-width="0.9"/>
<rect x="401.23" y="238.4" width="5.70" height="100.70" fill="#fff" stroke="#333" stroke-width="0.9"/>
<line x1="401.23" y1="334.5" x2="406.93" y2="334.5" stroke="#333" stroke-width="1.7"/>
<circle cx="404.08" cy="77.7" r="1.5" fill="#222"/>
<rect x="408.90" y="343" width="5.70" height="0.01" fill="#fff" stroke="#333" stroke-width="0.9"/>
<line x1="408.90" y1="343" x2="414.60" y2="343" stroke="#333" stroke-width="1.7"/>
<line x1="419.42" y1="337.5" x2="419.42" y2="340.3" stroke="#333" stroke-width="0.9"/>
<rect x="416.57" y="340.3" width="5.70" height="2.70" fill="#fff" stroke="#333" stroke-width="0.9"/>
<line x1="416.57" y1="343" x2="422.27" y2="343" stroke="#333" stroke-width="1.7"/>
<circle cx="419.42" cy="321.9" r="1.5" fill="#222"/>
<line x1="427.09" y1="189.5" x2="427.09" y2="236.4" stroke="#333" stroke-width="0.9"/>
<rect x="424.24" y="236.4" width="5.70" height="106.60" fill="#fff" stroke="#333" stroke-width="0.9"/>
<line x1="424.24" y1="343" x2="429.94" y2="343" stroke="#333" stroke-width="1.7"/>
<line x1="434.76" y1="237.1" x2="434.76" y2="248.7" stroke="#333" stroke-width="0.9"/>
<rect x="431.91" y="248.7" width="5.70" height="88.20" fill="#fff" stroke="#333" stroke-width="0.9"/>
<line x1="431.91" y1="295.0" x2="437.61" y2="295.0" stroke="#333" stroke-width="1.7"/>
<line x1="442.43" y1="313.6" x2="442.43" y2="329.3" stroke="#333" stroke-width="0.9"/>
<line x1="442.43" y1="342.5" x2="442.43" y2="343" stroke="#333" stroke-width="0.9"/>
<rect x="439.58" y="329.3" width="5.70" height="13.20" fill="#fff" stroke="#333" stroke-width="0.9"/>
<line x1="439.58" y1="341.7" x2="445.28" y2="341.7" stroke="#333" stroke-width="1.7"/>
<rect x="447.25" y="343" width="5.70" height="0.01" fill="#fff" stroke="#333" stroke-width="0.9"/>
<line x1="447.25" y1="343" x2="452.95" y2="343" stroke="#333" stroke-width="1.7"/>
<line x1="457.77" y1="160.7" x2="457.77" y2="176.3" stroke="#333" stroke-width="0.9"/>
<line x1="457.77" y1="265.3" x2="457.77" y2="339.5" stroke="#333" stroke-width="0.9"/>
<rect x="454.92" y="176.3" width="5.70" height="89.00" fill="#fff" stroke="#333" stroke-width="0.9"/>
<line x1="454.92" y1="191.4" x2="460.62" y2="191.4" stroke="#333" stroke-width="1.7"/>
<rect x="462.59" y="343" width="5.70" height="0.01" fill="#fff" stroke="#333" stroke-width="0.9"/>
<line x1="462.59" y1="343" x2="468.29" y2="343" stroke="#333" stroke-width="1.7"/>
<line x1="473.11" y1="293.6" x2="473.11" y2="319.9" stroke="#333" stroke-width="0.9"/>
<line x1="473.11" y1="339.0" x2="473.11" y2="340.6" stroke="#333" stroke-width="0.9"/>
<rect x="470.26" y="319.9" width="5.70" height="19.10" fill="#fff" stroke="#333" stroke-width="0.9"/>
<line x1="470.26" y1="338.0" x2="475.96" y2="338.0" stroke="#333" stroke-width="1.7"/>
<line x1="480.78" y1="329.3" x2="480.78" y2="334.0" stroke="#333" stroke-width="0.9"/>
<line x1="480.78" y1="341.1" x2="480.78" y2="343" stroke="#333" stroke-width="0.9"/>
<rect x="477.93" y="334.0" width="5.70" height="7.10" fill="#fff" stroke="#333" stroke-width="0.9"/>
<line x1="477.93" y1="338.4" x2="483.63" y2="338.4" stroke="#333" stroke-width="1.7"/>
<circle cx="480.78" cy="311.4" r="1.5" fill="#222"/>
<line x1="488.45" y1="61.0" x2="488.45" y2="66.5" stroke="#333" stroke-width="0.9"/>
<line x1="488.45" y1="307.6" x2="488.45" y2="341.8" stroke="#333" stroke-width="0.9"/>
<rect x="485.60" y="66.5" width="5.70" height="241.10" fill="#fff" stroke="#333" stroke-width="0.9"/>
<line x1="485.60" y1="181.8" x2="491.30" y2="181.8" stroke="#333" stroke-width="1.7"/>
<rect x="493.27" y="343" width="5.70" height="0.01" fill="#fff" stroke="#333" stroke-width="0.9"/>
<line x1="493.27" y1="343" x2="498.97" y2="343" stroke="#333" stroke-width="1.7"/>
<line x1="503.79" y1="162.6" x2="503.79" y2="250.4" stroke="#333" stroke-width="0.9"/>
<line x1="503.79" y1="339.9" x2="503.79" y2="342.4" stroke="#333" stroke-width="0.9"/>
<rect x="500.94" y="250.4" width="5.70" height="89.50" fill="#fff" stroke="#333" stroke-width="0.9"/>
<line x1="500.94" y1="337.3" x2="506.64" y2="337.3" stroke="#333" stroke-width="1.7"/>
<rect x="508.61" y="343" width="5.70" height="0.01" fill="#fff" stroke="#333" stroke-width="0.9"/>
<line x1="508.61" y1="343" x2="514.31" y2="343" stroke="#333" stroke-width="1.7"/>
<line x1="519.13" y1="330.7" x2="519.13" y2="334.0" stroke="#333" stroke-width="0.9"/>
<line x1="519.13" y1="342.2" x2="519.13" y2="343" stroke="#333" stroke-width="0.9"/>
<rect x="516.28" y="334.0" width="5.70" height="8.20" fill="#fff" stroke="#333" stroke-width="0.9"/>
<line x1="516.28" y1="342.0" x2="521.98" y2="342.0" stroke="#333" stroke-width="1.7"/>
<circle cx="519.13" cy="312.0" r="1.5" fill="#222"/>
<rect x="523.95" y="343" width="5.70" height="0.01" fill="#fff" stroke="#333" stroke-width="0.9"/>
<line x1="523.95" y1="343" x2="529.65" y2="343" stroke="#333" stroke-width="1.7"/>
<circle cx="526.80" cy="332.0" r="1.5" fill="#222"/>
<rect x="531.62" y="343" width="5.70" height="0.01" fill="#fff" stroke="#333" stroke-width="0.9"/>
<line x1="531.62" y1="343" x2="537.32" y2="343" stroke="#333" stroke-width="1.7"/>
<line x1="542.14" y1="193.6" x2="542.14" y2="236.0" stroke="#333" stroke-width="0.9"/>
<rect x="539.29" y="236.0" width="5.70" height="107.00" fill="#fff" stroke="#333" stroke-width="0.9"/>
<line x1="539.29" y1="296.3" x2="544.99" y2="296.3" stroke="#333" stroke-width="1.7"/>
<line x1="549.81" y1="335.3" x2="549.81" y2="338.4" stroke="#333" stroke-width="0.9"/>
<line x1="549.81" y1="342.2" x2="549.81" y2="343" stroke="#333" stroke-width="0.9"/>
<rect x="546.96" y="338.4" width="5.70" height="3.80" fill="#fff" stroke="#333" stroke-width="0.9"/>
<line x1="546.96" y1="341.0" x2="552.66" y2="341.0" stroke="#333" stroke-width="1.7"/>
<rect x="554.63" y="343" width="5.70" height="0.01" fill="#fff" stroke="#333" stroke-width="0.9"/>
<line x1="554.63" y1="343" x2="560.33" y2="343" stroke="#333" stroke-width="1.7"/>
<line x1="565.15" y1="297.1" x2="565.15" y2="306.5" stroke="#333" stroke-width="0.9"/>
<line x1="565.15" y1="328.2" x2="565.15" y2="329.5" stroke="#333" stroke-width="0.9"/>
<rect x="562.30" y="306.5" width="5.70" height="21.70" fill="#fff" stroke="#333" stroke-width="0.9"/>
<line x1="562.30" y1="322.7" x2="568.00" y2="322.7" stroke="#333" stroke-width="1.7"/>
<rect x="569.97" y="321.6" width="5.70" height="21.40" fill="#fff" stroke="#333" stroke-width="0.9"/>
<line x1="569.97" y1="332.0" x2="575.67" y2="332.0" stroke="#333" stroke-width="1.7"/>
<line x1="580.49" y1="338.1" x2="580.49" y2="341.0" stroke="#333" stroke-width="0.9"/>
<rect x="577.64" y="341.0" width="5.70" height="2.00" fill="#fff" stroke="#333" stroke-width="0.9"/>
<line x1="577.64" y1="343" x2="583.34" y2="343" stroke="#333" stroke-width="1.7"/>
<rect x="585.31" y="343" width="5.70" height="0.01" fill="#fff" stroke="#333" stroke-width="0.9"/>
<line x1="585.31" y1="343" x2="591.01" y2="343" stroke="#333" stroke-width="1.7"/>
<rect x="592.98" y="343" width="5.70" height="0.01" fill="#fff" stroke="#333" stroke-width="0.9"/>
<line x1="592.98" y1="343" x2="598.68" y2="343" stroke="#333" stroke-width="1.7"/>
<circle cx="595.83" cy="238.7" r="1.5" fill="#222"/>
<circle cx="595.83" cy="289.5" r="1.5" fill="#222"/>
<circle cx="595.83" cy="316.1" r="1.5" fill="#222"/>
<circle cx="595.83" cy="337.0" r="1.5" fill="#222"/>
<rect x="600.65" y="343" width="5.70" height="0.01" fill="#fff" stroke="#333" stroke-width="0.9"/>
<line x1="600.65" y1="343" x2="606.35" y2="343" stroke="#333" stroke-width="1.7"/>
<rect x="608.32" y="342.2" width="5.70" height="0.80" fill="#fff" stroke="#333" stroke-width="0.9"/>
<line x1="608.32" y1="342.6" x2="614.02" y2="342.6" stroke="#333" stroke-width="1.7"/>
<rect x="615.99" y="328.6" width="5.70" height="1.80" fill="#fff" stroke="#333" stroke-width="0.9"/>
<line x1="615.99" y1="329.5" x2="621.69" y2="329.5" stroke="#333" stroke-width="1.7"/>
<rect x="623.66" y="343" width="5.70" height="0.01" fill="#fff" stroke="#333" stroke-width="0.9"/>
<line x1="623.66" y1="343" x2="629.36" y2="343" stroke="#333" stroke-width="1.7"/>
<rect x="631.33" y="340.9" width="5.70" height="0.01" fill="#fff" stroke="#333" stroke-width="0.9"/>
<line x1="631.33" y1="340.9" x2="637.03" y2="340.9" stroke="#333" stroke-width="1.7"/>
<line x1="641.85" y1="336.1" x2="641.85" y2="339.2" stroke="#333" stroke-width="0.9"/>
<rect x="639.00" y="339.2" width="5.70" height="3.80" fill="#fff" stroke="#333" stroke-width="0.9"/>
<line x1="639.00" y1="343" x2="644.70" y2="343" stroke="#333" stroke-width="1.7"/>
<circle cx="641.85" cy="327.3" r="1.5" fill="#222"/>
<circle cx="641.85" cy="329.4" r="1.5" fill="#222"/>
<line x1="649.52" y1="333.5" x2="649.52" y2="335.0" stroke="#333" stroke-width="0.9"/>
<line x1="649.52" y1="339.8" x2="649.52" y2="341.8" stroke="#333" stroke-width="0.9"/>
<rect x="646.67" y="335.0" width="5.70" height="4.80" fill="#fff" stroke="#333" stroke-width="0.9"/>
<line x1="646.67" y1="337.4" x2="652.37" y2="337.4" stroke="#333" stroke-width="1.7"/>
<line x1="657.19" y1="147.5" x2="657.19" y2="223.6" stroke="#333" stroke-width="0.9"/>
<rect x="654.34" y="223.6" width="5.70" height="119.40" fill="#fff" stroke="#333" stroke-width="0.9"/>
<line x1="654.34" y1="334.2" x2="660.04" y2="334.2" stroke="#333" stroke-width="1.7"/>
<line x1="664.86" y1="265.3" x2="664.86" y2="299.0" stroke="#333" stroke-width="0.9"/>
<rect x="662.01" y="299.0" width="5.70" height="44.00" fill="#fff" stroke="#333" stroke-width="0.9"/>
<line x1="662.01" y1="337.0" x2="667.71" y2="337.0" stroke="#333" stroke-width="1.7"/>
<circle cx="664.86" cy="24.2" r="1.5" fill="#222"/>
<circle cx="664.86" cy="75.0" r="1.5" fill="#222"/>
<rect x="669.68" y="332.0" width="5.70" height="11.00" fill="#fff" stroke="#333" stroke-width="0.9"/>
<line x1="669.68" y1="343" x2="675.38" y2="343" stroke="#333" stroke-width="1.7"/>
<circle cx="672.53" cy="311.4" r="1.5" fill="#222"/>
<circle cx="672.53" cy="314.2" r="1.5" fill="#222"/>
<rect x="677.35" y="343" width="5.70" height="0.01" fill="#fff" stroke="#333" stroke-width="0.9"/>
<line x1="677.35" y1="343" x2="683.05" y2="343" stroke="#333" stroke-width="1.7"/>
<line x1="369.1" y1="8.5" x2="369.1" y2="358.9" stroke="#777" stroke-width="1.6"/>
<line x1="368.3" y1="358.3" x2="685" y2="358.3" stroke="#3a3a3a" stroke-width="1.3"/>
<line x1="366.9" y1="343" x2="368.4" y2="343" stroke="#555" stroke-width="0.9"/>
<line x1="366.9" y1="235.1" x2="368.4" y2="235.1" stroke="#555" stroke-width="0.9"/>
<line x1="366.9" y1="127.2" x2="368.4" y2="127.2" stroke="#555" stroke-width="0.9"/>
<line x1="366.9" y1="19.4" x2="368.4" y2="19.4" stroke="#555" stroke-width="0.9"/>
<line x1="373.40" y1="358.8" x2="373.40" y2="360.6" stroke="#555" stroke-width="0.9"/>
<line x1="381.07" y1="358.8" x2="381.07" y2="360.6" stroke="#555" stroke-width="0.9"/>
<line x1="388.74" y1="358.8" x2="388.74" y2="360.6" stroke="#555" stroke-width="0.9"/>
<line x1="396.41" y1="358.8" x2="396.41" y2="360.6" stroke="#555" stroke-width="0.9"/>
<line x1="404.08" y1="358.8" x2="404.08" y2="360.6" stroke="#555" stroke-width="0.9"/>
<line x1="411.75" y1="358.8" x2="411.75" y2="360.6" stroke="#555" stroke-width="0.9"/>
<line x1="419.42" y1="358.8" x2="419.42" y2="360.6" stroke="#555" stroke-width="0.9"/>
<line x1="427.09" y1="358.8" x2="427.09" y2="360.6" stroke="#555" stroke-width="0.9"/>
<line x1="434.76" y1="358.8" x2="434.76" y2="360.6" stroke="#555" stroke-width="0.9"/>
<line x1="442.43" y1="358.8" x2="442.43" y2="360.6" stroke="#555" stroke-width="0.9"/>
<line x1="450.10" y1="358.8" x2="450.10" y2="360.6" stroke="#555" stroke-width="0.9"/>
<line x1="457.77" y1="358.8" x2="457.77" y2="360.6" stroke="#555" stroke-width="0.9"/>
<line x1="465.44" y1="358.8" x2="465.44" y2="360.6" stroke="#555" stroke-width="0.9"/>
<line x1="473.11" y1="358.8" x2="473.11" y2="360.6" stroke="#555" stroke-width="0.9"/>
<line x1="480.78" y1="358.8" x2="480.78" y2="360.6" stroke="#555" stroke-width="0.9"/>
<line x1="488.45" y1="358.8" x2="488.45" y2="360.6" stroke="#555" stroke-width="0.9"/>
<line x1="496.12" y1="358.8" x2="496.12" y2="360.6" stroke="#555" stroke-width="0.9"/>
<line x1="503.79" y1="358.8" x2="503.79" y2="360.6" stroke="#555" stroke-width="0.9"/>
<line x1="511.46" y1="358.8" x2="511.46" y2="360.6" stroke="#555" stroke-width="0.9"/>
<line x1="519.13" y1="358.8" x2="519.13" y2="360.6" stroke="#555" stroke-width="0.9"/>
<line x1="526.80" y1="358.8" x2="526.80" y2="360.6" stroke="#555" stroke-width="0.9"/>
<line x1="534.47" y1="358.8" x2="534.47" y2="360.6" stroke="#555" stroke-width="0.9"/>
<line x1="542.14" y1="358.8" x2="542.14" y2="360.6" stroke="#555" stroke-width="0.9"/>
<line x1="549.81" y1="358.8" x2="549.81" y2="360.6" stroke="#555" stroke-width="0.9"/>
<line x1="557.48" y1="358.8" x2="557.48" y2="360.6" stroke="#555" stroke-width="0.9"/>
<line x1="565.15" y1="358.8" x2="565.15" y2="360.6" stroke="#555" stroke-width="0.9"/>
<line x1="572.82" y1="358.8" x2="572.82" y2="360.6" stroke="#555" stroke-width="0.9"/>
<line x1="580.49" y1="358.8" x2="580.49" y2="360.6" stroke="#555" stroke-width="0.9"/>
<line x1="588.16" y1="358.8" x2="588.16" y2="360.6" stroke="#555" stroke-width="0.9"/>
<line x1="595.83" y1="358.8" x2="595.83" y2="360.6" stroke="#555" stroke-width="0.9"/>
<line x1="603.50" y1="358.8" x2="603.50" y2="360.6" stroke="#555" stroke-width="0.9"/>
<line x1="611.17" y1="358.8" x2="611.17" y2="360.6" stroke="#555" stroke-width="0.9"/>
<line x1="618.84" y1="358.8" x2="618.84" y2="360.6" stroke="#555" stroke-width="0.9"/>
<line x1="626.51" y1="358.8" x2="626.51" y2="360.6" stroke="#555" stroke-width="0.9"/>
<line x1="634.18" y1="358.8" x2="634.18" y2="360.6" stroke="#555" stroke-width="0.9"/>
<line x1="641.85" y1="358.8" x2="641.85" y2="360.6" stroke="#555" stroke-width="0.9"/>
<line x1="649.52" y1="358.8" x2="649.52" y2="360.6" stroke="#555" stroke-width="0.9"/>
<line x1="657.19" y1="358.8" x2="657.19" y2="360.6" stroke="#555" stroke-width="0.9"/>
<line x1="664.86" y1="358.8" x2="664.86" y2="360.6" stroke="#555" stroke-width="0.9"/>
<line x1="672.53" y1="358.8" x2="672.53" y2="360.6" stroke="#555" stroke-width="0.9"/>
<line x1="680.20" y1="358.8" x2="680.20" y2="360.6" stroke="#555" stroke-width="0.9"/>
<g font-size="8.4" fill="#222">
<text x="364.6" y="346.00" text-anchor="end">0</text>
<text x="366.2" y="238.10" text-anchor="end">10</text>
<text x="365.5" y="130.20" text-anchor="end">20</text>
<text x="365.5" y="22.40" text-anchor="end">30</text>
</g>
<g font-size="8.15" font-style="italic" fill="#2a2a2a">
<text transform="translate(374.30,362.3) rotate(-90)" text-anchor="end">Acinetobacter</text>
<text transform="translate(381.97,362.3) rotate(-90)" text-anchor="end">Aeromonas</text>
<text transform="translate(389.64,362.3) rotate(-90)" text-anchor="end">Bacillus</text>
<text transform="translate(397.31,362.3) rotate(-90)" text-anchor="end">Bacteroides</text>
<text transform="translate(404.98,362.3) rotate(-90)" text-anchor="end">Bifidobacterium</text>
<text transform="translate(412.65,362.3) rotate(-90)" text-anchor="end">Bordetella</text>
<text transform="translate(420.32,362.3) rotate(-90)" text-anchor="end">Burkholderia</text>
<text transform="translate(427.99,362.3) rotate(-90)" text-anchor="end">Campylobacter</text>
<text transform="translate(435.66,362.3) rotate(-90)" text-anchor="end">Chlamydia</text>
<text transform="translate(443.33,362.3) rotate(-90)" text-anchor="end">Citrobacter</text>
<text transform="translate(451.00,362.3) rotate(-90)" text-anchor="end">Corynebacterium</text>
<text transform="translate(458.67,362.3) rotate(-90)" text-anchor="end">Cronobacter</text>
<text transform="translate(466.34,362.3) rotate(-90)" text-anchor="end">Elizabethkingia</text>
<text transform="translate(474.01,362.3) rotate(-90)" text-anchor="end">Enterobacter</text>
<text transform="translate(481.68,362.3) rotate(-90)" text-anchor="end">Enterococcus</text>
<text transform="translate(489.35,362.3) rotate(-90)" text-anchor="end">Escherichia_Shigella</text>
<text transform="translate(497.02,362.3) rotate(-90)" text-anchor="end">Fusobacterium</text>
<text transform="translate(504.69,362.3) rotate(-90)" text-anchor="end">Haemophilus</text>
<text transform="translate(512.36,362.3) rotate(-90)" text-anchor="end">Helicobacter</text>
<text transform="translate(520.03,362.3) rotate(-90)" text-anchor="end">Klebsiella</text>
<text transform="translate(527.70,362.3) rotate(-90)" text-anchor="end">Lactobacillus</text>
<text transform="translate(535.37,362.3) rotate(-90)" text-anchor="end">Lactococcus</text>
<text transform="translate(543.04,362.3) rotate(-90)" text-anchor="end">Leptospira</text>
<text transform="translate(550.71,362.3) rotate(-90)" text-anchor="end">Mycobacterium</text>
<text transform="translate(558.38,362.3) rotate(-90)" text-anchor="end">Mycobacteroides</text>
<text transform="translate(566.05,362.3) rotate(-90)" text-anchor="end">Neisseria</text>
<text transform="translate(573.72,362.3) rotate(-90)" text-anchor="end">Paenibacillus</text>
<text transform="translate(581.39,362.3) rotate(-90)" text-anchor="end">Pantoea</text>
<text transform="translate(589.06,362.3) rotate(-90)" text-anchor="end">Prevotella</text>
<text transform="translate(596.73,362.3) rotate(-90)" text-anchor="end">Pseudomonas</text>
<text transform="translate(604.40,362.3) rotate(-90)" text-anchor="end">Rhizobium</text>
<text transform="translate(612.07,362.3) rotate(-90)" text-anchor="end">Rhodococcus</text>
<text transform="translate(619.74,362.3) rotate(-90)" text-anchor="end">Salmonella</text>
<text transform="translate(627.41,362.3) rotate(-90)" text-anchor="end">Serratia</text>
<text transform="translate(635.08,362.3) rotate(-90)" text-anchor="end">Sinorhizobium</text>
<text transform="translate(642.75,362.3) rotate(-90)" text-anchor="end">Staphylococcus</text>
<text transform="translate(650.42,362.3) rotate(-90)" text-anchor="end">Stenotrophomonas</text>
<text transform="translate(658.09,362.3) rotate(-90)" text-anchor="end">Streptococcus</text>
<text transform="translate(665.76,362.3) rotate(-90)" text-anchor="end">Vibrio</text>
<text transform="translate(673.43,362.3) rotate(-90)" text-anchor="end">Xanthomonas</text>
<text transform="translate(681.10,362.3) rotate(-90)" text-anchor="end">Yersinia</text>
</g>
<text transform="translate(348.1,175.6) rotate(-90)" font-size="10.66" text-anchor="middle" fill="#111">% of introgressed core genes across BSC&#8722;species and genera</text>
<text x="521" y="436.5" font-size="10.4" text-anchor="middle" fill="#111">Genus</text>
</svg>
</body></html>
